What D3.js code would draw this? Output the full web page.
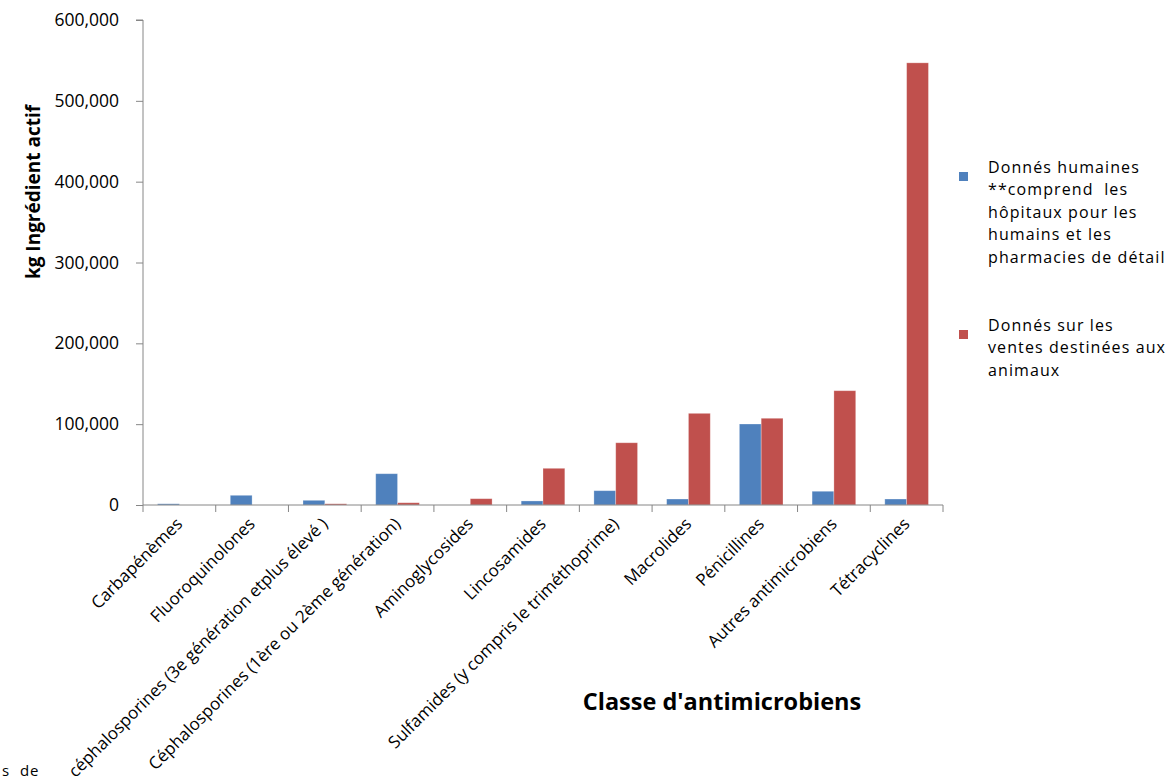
<!DOCTYPE html>
<html>
<head>
<meta charset="utf-8">
<script src="https://cdn.jsdelivr.net/npm/d3@7"></script>
<style>
  html, body { margin: 0; padding: 0; background: #fff; }
  svg { display: block; }
  text { font-family: "Open Sans", "DejaVu Sans", sans-serif; fill: #000; white-space: pre; }
</style>
</head>
<body>
<svg id="chart" width="1172" height="780"></svg>
<script>
// Antimicrobial classes along the x axis
const categories = [
  "Carbapénèmes",
  "Fluoroquinolones",
  "céphalosporines (3e génération etplus élevé )",
  "Céphalosporines (1ère ou 2ème génération)",
  "Aminoglycosides",
  "Lincosamides",
  "Sulfamides (y compris le triméthoprime)",
  "Macrolides",
  "Pénicillines",
  "Autres antimicrobiens",
  "Tétracyclines"
];

// kg of active ingredient, human data (hospitals + retail pharmacies)
const humanValues = [1500, 12000, 5800, 38700, 0, 5000, 17700, 7400, 100200, 17000, 7400];
// kg of active ingredient, sales for animal use
const animalValues = [0, 0, 1500, 2800, 7800, 45400, 77000, 113400, 107300, 141400, 547000];

const yTicks = [0, 100000, 200000, 300000, 400000, 500000, 600000];

const seriesNames = ["human", "animal"];
const seriesColors = ["#4F81BD", "#C0504D"];
const legendLines = [
  ["Donnés humaines", "**comprend  les", "hôpitaux pour les", "humains et les", "pharmacies de détail"],
  ["Donnés sur les", "ventes destinées aux", "animaux"]
];

const svg = d3.select("#chart");
const plot = { left: 143, right: 943, top: 20, bottom: 505 };

const x = d3.scaleBand()
  .domain(categories)
  .range([plot.left, plot.right])
  .paddingInner(0.4)
  .paddingOuter(0.2);

const xGroup = d3.scaleBand()
  .domain(categories)
  .range([plot.left, plot.right])
  .padding(0);

const y = d3.scaleLinear().domain([0, 600000]).range([plot.bottom, plot.top]);

const xSub = d3.scaleBand().domain(seriesNames).range([0, x.bandwidth()]).padding(0);

const rows = categories.map((c, i) => ({ cat: c, human: humanValues[i], animal: animalValues[i] }));

const axisColor = "#868686";

// Bars
const groups = svg.append("g").selectAll("g")
  .data(rows)
  .join("g")
  .attr("transform", d => `translate(${x(d.cat)},0)`);

groups.selectAll("rect")
  .data(d => seriesNames.map((s, k) => ({ key: s, value: d[s], k })))
  .join("rect")
  .filter(d => d.value > 0)
  .attr("x", d => xSub(d.key))
  .attr("width", xSub.bandwidth())
  .attr("y", d => y(d.value))
  .attr("height", d => y(0) - y(d.value))
  .attr("fill", d => seriesColors[d.k])
  .attr("stroke", "rgba(255,255,255,0.35)")
  .attr("stroke-width", 0.8);

// Y axis
const yAxis = d3.axisLeft(y)
  .tickValues(yTicks)
  .tickSize(7)
  .tickPadding(17)
  .tickFormat(d3.format(",.0f"));

const gy = svg.append("g").attr("transform", `translate(${plot.left},0)`).call(yAxis);
gy.select(".domain").attr("stroke", axisColor).attr("d", `M-7,${plot.top}H0V${plot.bottom}`);
gy.selectAll(".tick line").attr("stroke", axisColor);
gy.selectAll(".tick text")
  .style("font-size", "17.5px")
  .attr("fill", "#000");

// X axis: baseline and boundary ticks
const gx = svg.append("g");
gx.append("line")
  .attr("x1", plot.left).attr("x2", plot.right)
  .attr("y1", y(0)).attr("y2", y(0))
  .attr("stroke", axisColor).attr("stroke-width", 1);

const boundaries = categories.map(c => xGroup(c)).concat([plot.right]);
gx.selectAll("line.tick")
  .data(boundaries)
  .join("line")
  .attr("class", "tick")
  .attr("x1", d => d).attr("x2", d => d)
  .attr("y1", y(0)).attr("y2", y(0) + 7)
  .attr("stroke", axisColor);

// Rotated category labels
gx.selectAll("text.cat")
  .data(categories)
  .join("text")
  .attr("class", "cat")
  .attr("text-anchor", "end")
  .attr("transform", c => `translate(${xGroup(c) + xGroup.bandwidth() / 2 + 4},${y(0) + 20}) rotate(-45)`)
  .style("font-size", "17px")
  .text(c => c);

// Axis titles
svg.append("text")
  .attr("transform", `translate(40,192) rotate(-90)`)
  .attr("text-anchor", "middle")
  .style("font-size", "19px")
  .style("font-weight", "bold")
  .text("kg Ingrédient actif");

svg.append("text")
  .attr("x", 722)
  .attr("y", 710)
  .attr("text-anchor", "middle")
  .style("font-size", "23.5px")
  .style("font-weight", "bold")
  .text("Classe d'antimicrobiens");

// Legend
const legendTops = [167, 325];
legendLines.forEach((lines, i) => {
  const g = svg.append("g").attr("transform", `translate(0,${legendTops[i]})`);
  g.append("rect")
    .attr("x", 959).attr("y", 5)
    .attr("width", 9).attr("height", 9)
    .attr("fill", seriesColors[i]);
  g.selectAll("text")
    .data(lines)
    .join("text")
    .attr("x", 988)
    .attr("y", (d, j) => j * 22.5)
    .attr("dy", "0.35em")
    .style("font-size", "16px")
    .style("letter-spacing", "1.1px")
    .text(d => d);
});

// Trailing text fragment at the lower-left edge
svg.append("text")
  .attr("x", 2)
  .attr("y", 776)
  .style("font-size", "15px")
  .style("letter-spacing", "1px")
  .text("s  de");
</script>
</body>
</html>
